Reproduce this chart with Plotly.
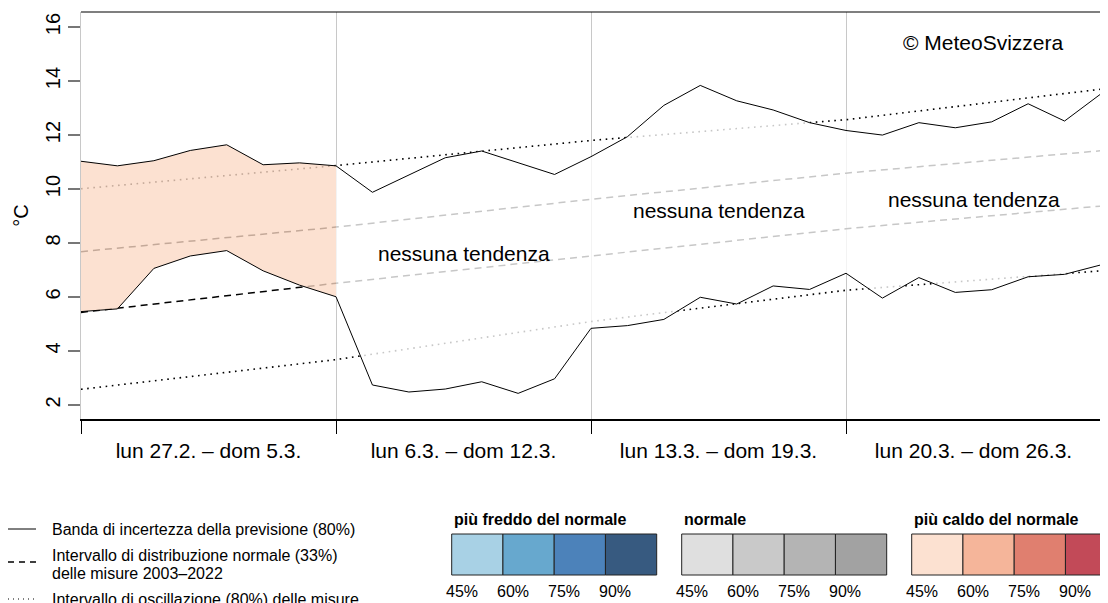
import plotly.graph_objects as go

# ---------------- data ----------------
days = list(range(29))  # day index, Mon 27.2. = 0 ... Sun 26.3. = 28
week_bounds = [0, 7, 14, 21, 28]
week_labels = ["lun 27.2. – dom 5.3.", "lun 6.3. – dom 12.3.",
               "lun 13.3. – dom 19.3.", "lun 20.3. – dom 26.3."]

fc_upper = [11.03, 10.86, 11.05, 11.43, 11.64, 10.90, 10.97, 10.86,
            9.88, 10.52, 11.16, 11.41, 10.97, 10.54, 11.20,
            11.94, 13.10, 13.84, 13.27, 12.93, 12.46, 12.17,
            12.00, 12.46, 12.27, 12.49, 13.16, 12.52, 13.53]
fc_lower = [5.46, 5.56, 7.06, 7.52, 7.72, 6.97, 6.44, 6.01,
            2.74, 2.48, 2.59, 2.86, 2.43, 2.97, 4.84,
            4.94, 5.17, 5.99, 5.74, 6.41, 6.28, 6.88,
            5.96, 6.72, 6.17, 6.27, 6.75, 6.84, 7.19]

clim_days = [0, 7, 14, 21, 28]
clim_p10 = [2.58, 3.68, 5.09, 6.25, 6.97]
clim_p33 = [5.43, 6.51, 7.52, 8.53, 9.37]
clim_p67 = [7.68, 8.59, 9.62, 10.59, 11.42]
clim_p90 = [10.01, 10.87, 11.80, 12.57, 13.70]

# category per week: (group, level index) or None
week_category = [("warm", 0), None, None, None]
trend_text = ["", "nessuna tendenza", "nessuna tendenza", "nessuna tendenza"]
trend_y = [None, 7.6, 9.2, 9.6]

legend_groups = ["più freddo del normale", "normale", "più caldo del normale"]
legend_keys = ["cold", "normal", "warm"]
legend_pct = ["45%", "60%", "75%", "90%"]
palette = {
    "cold": ["#A8D1E5", "#67A8CE", "#4C82BA", "#375A80"],
    "normal": ["#DFDFDF", "#C9C9C9", "#B4B4B4", "#A2A2A2"],
    "warm": ["#FCE1D1", "#F5B59A", "#E07F6F", "#C24A58"],
}

# ---------------- helpers ----------------
FONT = "Liberation Sans, Arial, Helvetica, sans-serif"
OFF = 8  # page body margin
PAGE_L, PAGE_T, PW, PH = 81, 12, 1020, 407  # plot area in window pixels
W, H = 1108 - OFF, 603 - OFF
L, T = PAGE_L - OFF, PAGE_T - OFF
R = W - L - PW
B = H - T - PH
YR = [1.48, 16.56]


def pxx(p):
    return (p - PAGE_L) / PW


def pxy(p):
    return (PAGE_T + PH - p) / PH


ALPHA = 0.78


def overlay_fill(hex_col):
    # colour whose blend over white at ALPHA gives hex_col
    r, g, b = (int(hex_col[i:i + 2], 16) for i in (1, 3, 5))
    f = lambda c: max(0, min(255, round((c - 255 * (1 - ALPHA)) / ALPHA)))
    return f"rgba({f(r)},{f(g)},{f(b)},{ALPHA})"


fig = go.Figure()

# climatology lines (bottom layer)
dot = dict(color="black", width=1.6, dash="1.6px,4.6px")
dash = dict(color="black", width=1.5, dash="7px,5px")
for vals, st in [(clim_p10, dot), (clim_p33, dash), (clim_p67, dash), (clim_p90, dot)]:
    fig.add_trace(go.Scatter(x=clim_days, y=vals, mode="lines", line=st,
                             xaxis="x", yaxis="y", hoverinfo="skip", showlegend=False))

# forecast band fills (overlay layer)
for w in range(4):
    a, b = week_bounds[w], week_bounds[w + 1]
    xs = days[a:b + 1]
    cat = week_category[w]
    col = overlay_fill(palette[cat[0]][cat[1]]) if cat else overlay_fill("#FFFFFF")
    fig.add_trace(go.Scatter(x=xs, y=fc_lower[a:b + 1], mode="lines", line=dict(width=0),
                             xaxis="x2", yaxis="y2", hoverinfo="skip", showlegend=False))
    fig.add_trace(go.Scatter(x=xs, y=fc_upper[a:b + 1], mode="lines", line=dict(width=0),
                             fill="tonexty", fillcolor=col,
                             xaxis="x2", yaxis="y2", hoverinfo="skip", showlegend=False))

for vals in (fc_upper, fc_lower):
    fig.add_trace(go.Scatter(x=days, y=vals, mode="lines", line=dict(color="black", width=1),
                             xaxis="x2", yaxis="y2", hoverinfo="skip", showlegend=False))

annotations = []
shapes = []

# trend labels
for w in range(4):
    if trend_text[w]:
        annotations.append(dict(x=(week_bounds[w] + week_bounds[w + 1]) / 2, y=trend_y[w],
                                xref="x", yref="y", text=trend_text[w], showarrow=False,
                                xanchor="center", yanchor="middle",
                                font=dict(size=21, color="black", family=FONT)))
annotations.append(dict(x=pxx(983), y=pxy(42), xref="paper", yref="paper",
                        text="© MeteoSvizzera", showarrow=False,
                        xanchor="center", yanchor="middle",
                        font=dict(size=21, color="black", family=FONT)))

# top frame line
shapes.append(dict(type="line", xref="paper", yref="paper", x0=0, x1=1, y0=1, y1=1,
                   line=dict(color="black", width=1.2)))

# left legend (line styles)
leg_lines = [
    (529, dict(color="black", width=1), ["Banda di incertezza della previsione (80%)"], [529]),
    (562, dict(color="black", width=1.5, dash="6px,5px"),
     ["Intervallo di distribuzione normale (33%)", "delle misure 2003–2022"], [555, 573]),
    (599, dict(color="black", width=1, dash="1px,4px"),
     ["Intervallo di oscillazione (80%) delle misure"], [599]),
]
for ly, st, texts, tys in leg_lines:
    shapes.append(dict(type="line", xref="paper", yref="paper", x0=pxx(8), x1=pxx(36),
                       y0=pxy(ly), y1=pxy(ly), line=st))
    for t, ty in zip(texts, tys):
        annotations.append(dict(x=pxx(50), y=pxy(ty), xref="paper", yref="paper", text=t,
                                showarrow=False, xanchor="left", yanchor="middle",
                                font=dict(size=16, color="black", family=FONT)))

# colour legends
gx0 = [451.7, 681.7, 911.7]
bw = 51.25
for g in range(3):
    annotations.append(dict(x=pxx(gx0[g]), y=pxy(520), xref="paper", yref="paper",
                            text=f"<b>{legend_groups[g]}</b>", showarrow=False,
                            xanchor="left", yanchor="middle",
                            font=dict(size=16, color="black", family=FONT)))
    for i in range(4):
        x0 = gx0[g] + i * bw
        shapes.append(dict(type="rect", xref="paper", yref="paper",
                           x0=pxx(x0), x1=pxx(x0 + bw), y0=pxy(575), y1=pxy(534),
                           fillcolor=palette[legend_keys[g]][i],
                           line=dict(color="#222222", width=1)))
        annotations.append(dict(x=pxx(x0 + 10), y=pxy(591), xref="paper", yref="paper",
                                text=legend_pct[i], showarrow=False,
                                xanchor="center", yanchor="middle",
                                font=dict(size=16, color="black", family=FONT)))

fig.update_layout(
    width=W, height=H,
    margin=dict(l=L, r=R, t=T, b=B, pad=0, autoexpand=False),
    paper_bgcolor="white", plot_bgcolor="white",
    font=dict(family=FONT, color="black"),
    showlegend=False,
    xaxis=dict(range=[0, 28], tickmode="array", automargin=False,
               tickvals=[(week_bounds[i] + week_bounds[i + 1]) / 2 for i in range(4)],
               ticktext=week_labels, ticks="", ticklabelstandoff=12,
               tickfont=dict(size=21, color="black", family=FONT),
               showgrid=False, zeroline=False,
               showline=True, linecolor="black", linewidth=2,
               minor=dict(tickmode="array", tickvals=week_bounds, ticks="outside",
                          ticklen=13, tickwidth=1, tickcolor="black",
                          showgrid=True, gridcolor="#C8C8C8", gridwidth=1)),
    yaxis=dict(range=YR, tickmode="array", tickvals=[2, 4, 6, 8, 10, 12, 14, 16],
               automargin=False,
               ticks="outside", ticklen=12, tickwidth=1.5, tickcolor="#777777",
               tickangle=-90, tickfont=dict(size=20, color="black", family=FONT),
               showgrid=False, zeroline=False,
               showline=True, linecolor="#C8C8C8", linewidth=1, mirror=True,
               title=dict(text="°C", font=dict(size=20, color="black", family=FONT),
                          standoff=8)),
    xaxis2=dict(range=[0, 28], overlaying="x", visible=False),
    yaxis2=dict(range=YR, overlaying="y", visible=False),
    annotations=annotations,
    shapes=shapes,
)

fig.write_html("out.html")
